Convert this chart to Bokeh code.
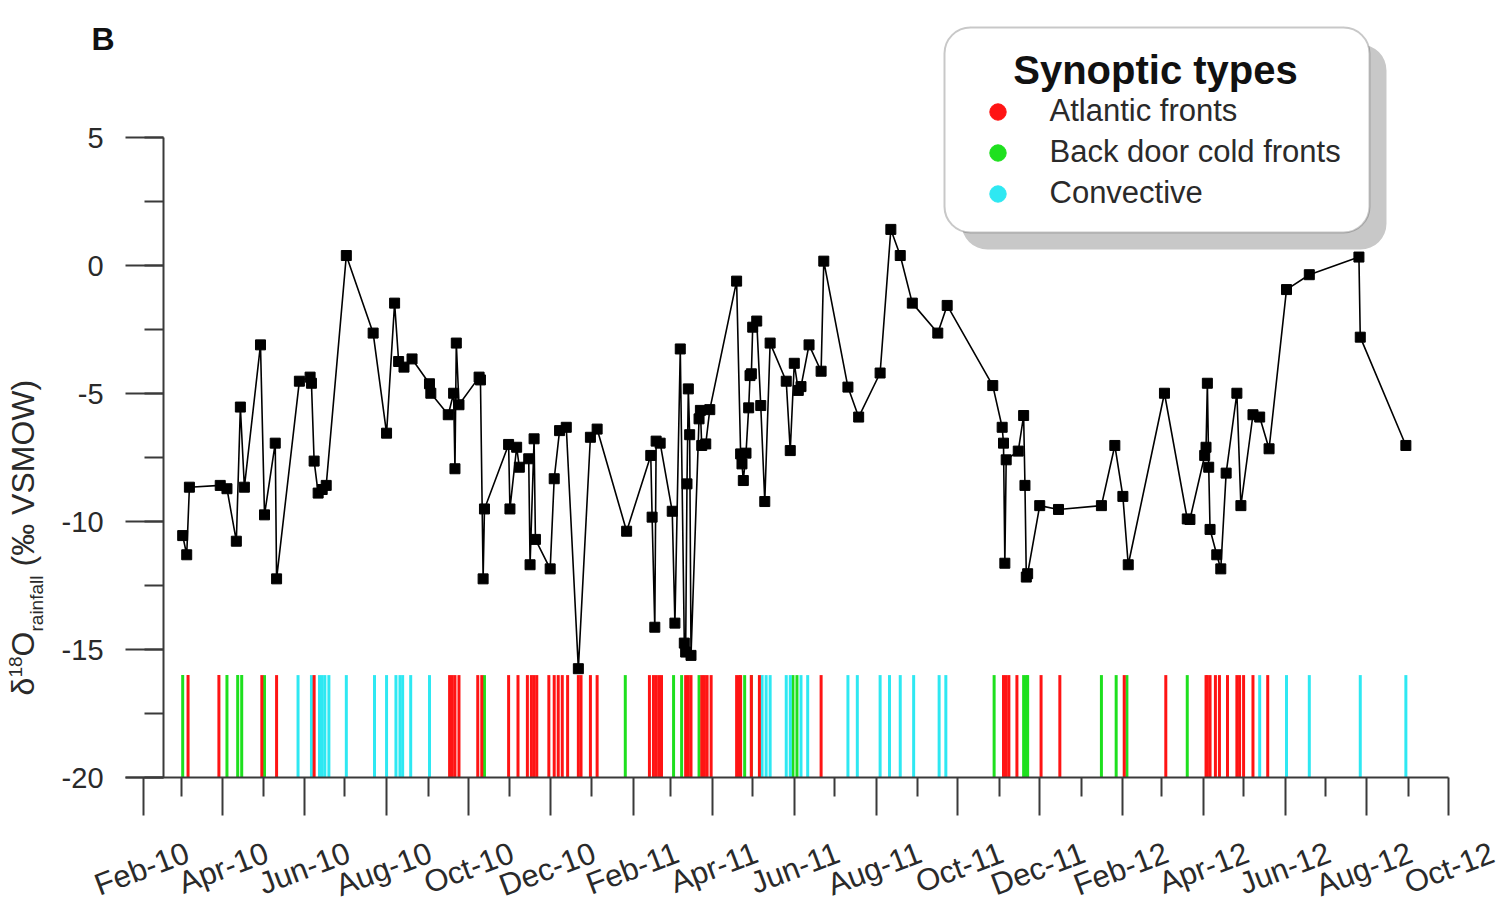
import math
import pandas as pd
from bokeh.plotting import figure
from bokeh.models import (Range1d, FixedTicker, SingleIntervalTicker, DatetimeTickFormatter,
                          PrintfTickFormatter, CustomJSTickFormatter, DatetimeAxis,
                          ColumnDataSource, Label, BoxAnnotation, Legend, LegendItem)
from bokeh.embed import file_html
from bokeh.resources import INLINE

# ---------------- data ----------------
sample_dates = [
    "2010-03-02", "2010-03-05", "2010-03-07", "2010-03-30", "2010-04-04", "2010-04-11", "2010-04-14",
    "2010-04-17", "2010-04-29", "2010-05-02", "2010-05-10", "2010-05-11", "2010-05-28", "2010-06-05",
    "2010-06-06", "2010-06-08", "2010-06-11", "2010-06-14", "2010-06-17", "2010-07-02", "2010-07-22",
    "2010-08-01", "2010-08-07", "2010-08-10", "2010-08-14", "2010-08-20", "2010-09-02", "2010-09-03",
    "2010-09-16", "2010-09-20", "2010-09-21", "2010-09-22", "2010-09-24", "2010-10-09", "2010-10-10",
    "2010-10-12", "2010-10-13", "2010-10-31", "2010-11-01", "2010-11-06", "2010-11-08", "2010-11-15",
    "2010-11-16", "2010-11-19", "2010-11-20", "2010-12-01", "2010-12-04", "2010-12-08", "2010-12-13",
    "2010-12-22", "2010-12-31", "2011-01-05", "2011-01-27", "2011-02-14", "2011-02-15", "2011-02-17",
    "2011-02-18", "2011-02-21", "2011-03-02", "2011-03-04", "2011-03-08", "2011-03-11", "2011-03-12",
    "2011-03-13", "2011-03-14", "2011-03-15", "2011-03-16", "2011-03-22", "2011-03-23", "2011-03-24",
    "2011-03-27", "2011-03-30", "2011-04-19", "2011-04-22", "2011-04-23", "2011-04-24", "2011-04-26",
    "2011-04-28", "2011-04-29", "2011-04-30", "2011-05-01", "2011-05-04", "2011-05-07", "2011-05-10",
    "2011-05-14", "2011-05-26", "2011-05-29", "2011-06-01", "2011-06-04", "2011-06-06", "2011-06-12",
    "2011-06-21", "2011-06-23", "2011-07-11", "2011-07-19", "2011-08-04", "2011-08-12", "2011-08-19",
    "2011-08-28", "2011-09-16", "2011-09-23", "2011-10-27", "2011-11-03", "2011-11-04", "2011-11-05",
    "2011-11-06", "2011-11-15", "2011-11-19", "2011-11-20", "2011-11-21", "2011-11-22", "2011-12-01",
    "2011-12-15", "2012-01-16", "2012-01-26", "2012-02-01", "2012-02-05", "2012-03-03", "2012-03-20",
    "2012-03-22", "2012-04-02", "2012-04-03", "2012-04-04", "2012-04-05", "2012-04-06", "2012-04-11",
    "2012-04-14", "2012-04-18", "2012-04-26", "2012-04-29", "2012-05-08", "2012-05-13", "2012-05-20",
    "2012-06-02", "2012-06-19", "2012-07-26", "2012-07-27", "2012-08-30",
]
d18o_rainfall = [
    -10.55, -11.30, -8.66, -8.59, -8.72, -10.77, -5.53,
    -8.66, -3.10, -9.74, -6.94, -12.24, -4.52, -4.36,
    -4.60, -7.64, -8.89, -8.75, -8.59, 0.39, -2.64,
    -6.55, -1.47, -3.75, -3.97, -3.65, -4.62, -4.99,
    -5.83, -4.99, -7.94, -3.03, -5.44, -4.36, -4.47,
    -12.24, -9.51, -6.99, -9.51, -7.10, -7.88, -7.55,
    -11.69, -6.77, -10.70, -11.85, -8.33, -6.45, -6.32,
    -15.75, -6.71, -6.39, -10.38, -7.42, -9.83, -14.13,
    -6.86, -6.94, -9.60, -13.97, -3.26, -14.75, -15.10,
    -8.53, -4.82, -6.61, -15.23, -5.99, -5.66, -7.03,
    -6.97, -5.63, -0.61, -7.36, -7.75, -8.40, -7.33,
    -5.56, -4.30, -4.23, -2.41, -2.17, -5.47, -9.22,
    -3.03, -4.52, -7.23, -3.82, -4.88, -4.73, -3.10,
    -4.13, 0.17, -4.75, -5.92, -4.20, 1.41, 0.39,
    -1.47, -2.64, -1.56, -4.69, -6.32, -6.94, -11.63,
    -7.59, -7.25, -5.86, -8.59, -12.17, -12.04, -9.38,
    -9.53, -9.38, -7.03, -9.02, -11.69, -4.99, -9.90,
    -9.92, -7.42, -7.10, -4.60, -7.88, -10.31, -11.30,
    -11.85, -8.11, -4.99, -9.38, -5.83, -5.92, -7.16,
    -0.94, -0.36, 0.33, -2.80, -7.03,
]

atlantic_fronts = [
    "2010-03-06", "2010-03-29", "2010-04-30", "2010-05-11", "2010-06-08", "2010-09-17", "2010-09-19",
    "2010-09-21", "2010-09-24", "2010-10-08", "2010-10-11", "2010-10-31", "2010-11-07", "2010-11-14",
    "2010-11-17", "2010-11-19", "2010-11-21", "2010-11-30", "2010-12-04", "2010-12-07", "2010-12-10",
    "2010-12-14", "2010-12-22", "2010-12-24", "2010-12-31", "2011-01-05", "2011-02-13", "2011-02-16",
    "2011-02-18", "2011-02-20", "2011-02-22", "2011-03-12", "2011-03-14", "2011-03-16", "2011-03-24",
    "2011-03-26", "2011-03-28", "2011-03-31", "2011-04-19", "2011-04-21", "2011-04-22", "2011-04-30",
    "2011-05-06", "2011-06-21", "2011-11-04", "2011-11-06", "2011-11-08", "2011-11-14", "2011-12-02",
    "2011-12-16", "2012-02-02", "2012-03-04", "2012-04-03", "2012-04-04", "2012-04-06", "2012-04-10",
    "2012-04-13", "2012-04-19", "2012-04-26", "2012-04-28", "2012-05-01", "2012-05-08", "2012-05-19",
]
back_door_cold_fronts = [
    "2010-03-02", "2010-04-04", "2010-04-12", "2010-04-15", "2010-05-02", "2010-10-13", "2011-01-26",
    "2011-03-03", "2011-03-09", "2011-03-22", "2011-04-25", "2011-04-30", "2011-05-31", "2011-06-03",
    "2011-10-28", "2011-11-19", "2011-11-21", "2011-11-22", "2012-01-16", "2012-01-27", "2012-02-04",
    "2012-03-20",
]
convective = [
    "2010-05-27", "2010-06-06", "2010-06-12", "2010-06-14", "2010-06-16", "2010-06-19", "2010-07-02",
    "2010-07-23", "2010-08-01", "2010-08-08", "2010-08-11", "2010-08-13", "2010-08-19", "2010-09-02",
    "2011-05-08", "2011-05-11", "2011-05-14", "2011-05-26", "2011-05-29", "2011-06-06", "2011-06-11",
    "2011-07-11", "2011-07-18", "2011-08-04", "2011-08-11", "2011-08-19", "2011-08-29", "2011-09-17",
    "2011-09-22", "2012-05-13", "2012-06-02", "2012-06-19", "2012-07-27", "2012-08-30",
]

major_tick_dates = [
    "2010-02-01", "2010-04-01", "2010-06-01", "2010-08-01", "2010-10-01", "2010-12-01",
    "2011-02-01", "2011-04-01", "2011-06-01", "2011-08-01", "2011-10-01", "2011-12-01",
    "2012-02-01", "2012-04-01", "2012-06-01", "2012-08-01", "2012-10-01",
]
minor_tick_dates = [
    "2010-03-01", "2010-05-01", "2010-07-01", "2010-09-01", "2010-11-01",
    "2011-01-01", "2011-03-01", "2011-05-01", "2011-07-01", "2011-09-01", "2011-11-01",
    "2012-01-01", "2012-03-01", "2012-05-01", "2012-07-01", "2012-09-01",
]
legend_labels = ["Atlantic fronts", "Back door cold fronts", "Convective"]
type_colors = ["#ff1414", "#1ee01e", "#2ee8f2"]

# ---------------- helpers / layout ----------------
def ms(ds):
    return [pd.Timestamp(d).value / 1e6 for d in ds]

FONT = "Liberation Sans"
PX_PER_DAY = 1.3412
PX_PER_UNIT = 25.6
W, H = 1510, 906
AXIS_Y_PX = 777          # canvas row of the -20 line
ORIGIN_PX = 143.3        # canvas column of 1 Feb 2010
LABEL_SHIFT_PX = 44      # centre rotated month labels on their ticks
origin = pd.Timestamp("2010-02-01")
x_start = origin - pd.Timedelta(days=ORIGIN_PX / PX_PER_DAY)
x_end = x_start + pd.Timedelta(days=W / PX_PER_DAY)
Y_MIN = -20.0
y_start = Y_MIN - (H - AXIS_Y_PX) / PX_PER_UNIT
y_end = Y_MIN + AXIS_Y_PX / PX_PER_UNIT

p = figure(frame_width=W, frame_height=H, x_axis_type="datetime",
           x_range=Range1d(x_start.value / 1e6, x_end.value / 1e6),
           y_range=Range1d(y_start, y_end),
           output_backend="svg", toolbar_location=None,
           min_border_left=0, min_border_right=0, min_border_top=0, min_border_bottom=0,
           background_fill_color="white", border_fill_color="white")
p.outline_line_color = None
p.xgrid.visible = False
p.ygrid.visible = False

AX_COLOR = "#3a3a3a"
TXT_COLOR = "#2a2a2a"

def style_axis(ax):
    ax.axis_line_color = AX_COLOR
    ax.axis_line_width = 2
    ax.major_tick_line_color = AX_COLOR
    ax.major_tick_line_width = 2
    ax.minor_tick_line_color = AX_COLOR
    ax.minor_tick_line_width = 2
    ax.major_tick_in = 0
    ax.major_tick_out = 38
    ax.minor_tick_in = 0
    ax.minor_tick_out = 19

# y axis placed at mid-Feb 2010, spanning -20..5
yax = p.yaxis[0]
yax.fixed_location = (origin + pd.Timedelta(days=14.7)).value / 1e6
yax.bounds = (-20, 5)
yax.ticker = SingleIntervalTicker(interval=5, num_minor_ticks=2)
yax.formatter = PrintfTickFormatter(format="%d")
style_axis(yax)
yax.major_label_standoff = 22
yax.major_label_text_font = FONT
yax.major_label_text_font_size = "29px"
yax.major_label_text_color = TXT_COLOR

# x axis (ticks and line) sitting on y = -20
xax = p.xaxis[0]
xax.fixed_location = Y_MIN
xax.bounds = ((origin - pd.Timedelta(days=18.3 / PX_PER_DAY)).value / 1e6,
              pd.Timestamp(major_tick_dates[-1]).value / 1e6)
xax.ticker = FixedTicker(ticks=ms(major_tick_dates), minor_ticks=ms(minor_tick_dates))
xax.formatter = CustomJSTickFormatter(code="return ''")
style_axis(xax)

# month labels: a label-only datetime axis whose range is shifted so the rotated
# (right-anchored) labels end up centred on the ticks
shift = pd.Timedelta(days=LABEL_SHIFT_PX / PX_PER_DAY)
p.extra_x_ranges = {"tick_labels": Range1d((x_start - shift).value / 1e6, (x_end - shift).value / 1e6)}
lab_ax = DatetimeAxis(x_range_name="tick_labels", fixed_location=Y_MIN,
                      ticker=FixedTicker(ticks=ms(major_tick_dates), minor_ticks=[]),
                      formatter=DatetimeTickFormatter(days="%b-%y", months="%b-%y", years="%b-%y",
                                                      boundary_scaling=False))
lab_ax.axis_line_color = None
lab_ax.major_tick_line_color = None
lab_ax.minor_tick_line_color = None
lab_ax.major_tick_in = 0
lab_ax.major_tick_out = 38
lab_ax.major_label_standoff = 36
lab_ax.major_label_orientation = 0.36
lab_ax.major_label_text_font = FONT
lab_ax.major_label_text_font_size = "31px"
lab_ax.major_label_text_color = TXT_COLOR
p.add_layout(lab_ax, "below")

# event bars (synoptic types)
EVENT_BOTTOM, EVENT_TOP = -20, -16
for dates, col in zip([back_door_cold_fronts, convective, atlantic_fronts],
                      [type_colors[1], type_colors[2], type_colors[0]]):
    dts = pd.to_datetime(dates)
    p.segment(x0=dts, y0=EVENT_BOTTOM, x1=dts, y1=EVENT_TOP, line_color=col, line_width=3)

# isotope series
src = ColumnDataSource(dict(date=pd.to_datetime(sample_dates), v=d18o_rainfall))
p.line("date", "v", source=src, line_color="black", line_width=1.6)
p.scatter("date", "v", source=src, marker="square", size=10, fill_color="black", line_color="black")

# legend decoration
def SY(cy):  # canvas row -> screen units measured up from the frame bottom
    return H - cy

def box_ann(l, r, t, b, **kw):
    return BoxAnnotation(left=l, right=r, top=SY(t), bottom=SY(b),
                         left_units="screen", right_units="screen",
                         top_units="screen", bottom_units="screen", border_radius=26, **kw)

p.add_layout(box_ann(961, 1386, 44, 249, fill_color="#c8c8c8", fill_alpha=1, line_color=None))
p.add_layout(box_ann(944, 1369, 27, 232, fill_color="white", fill_alpha=1,
                     line_color="#4a4a4a", line_width=2))

dummies = [p.scatter(x=[x_start.value / 1e6], y=[float("nan")], marker="circle", size=18,
                     fill_color=c, line_color=c) for c in type_colors]
legend = Legend(items=[LegendItem(label=l, renderers=[r]) for l, r in zip(legend_labels, dummies)],
                location=(974.5, SY(213.5)), orientation="vertical",
                glyph_width=45, glyph_height=41, label_height=41, spacing=0, padding=0, margin=0,
                label_standoff=30, border_line_color=None, background_fill_alpha=0,
                label_text_font=FONT, label_text_font_size="31px", label_text_color=TXT_COLOR)
p.add_layout(legend)

BASE_K = 0.37  # baseline correction factor for Label text

def htext(txt, x, base_cy, fs, **kw):
    p.add_layout(Label(x=x, y=SY(base_cy - BASE_K * fs), x_units="screen", y_units="screen",
                       text=txt, text_baseline="alphabetic", text_font=FONT,
                       text_font_size=f"{fs}px", **kw))

htext("Synoptic types", 1155, 84, 40, text_align="center", text_font_style="bold",
      text_color="#111111")
htext("B", 91, 50, 32, text_align="left", text_font_style="bold", text_color="#111111")

# y-axis title built from pieces (superscript / subscript), reading upwards
ylabel_parts = [
    ("δ", 34, 695, 32),
    ("18", 22, 677, 19),
    ("O", 34, 656, 32),
    ("rainfall", 43, 631, 19),
    ("(‰ VSMOW)", 34, 566, 32),
]
for txt, bx, cy, fs in ylabel_parts:
    p.add_layout(Label(x=bx - BASE_K * fs, y=SY(cy), x_units="screen", y_units="screen", text=txt,
                       angle=math.pi / 2, text_align="left", text_baseline="alphabetic",
                       text_font=FONT, text_font_size=f"{fs}px", text_color=TXT_COLOR))

open("out.html", "w").write(file_html(p, INLINE))
